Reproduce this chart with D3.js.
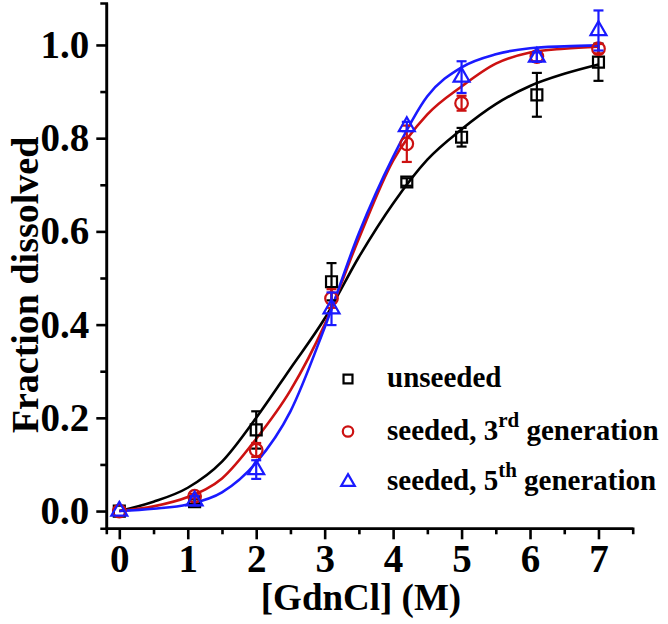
<!DOCTYPE html>
<html>
<head>
<meta charset="utf-8">
<script src="https://cdn.jsdelivr.net/npm/d3@7"></script>
</head>
<body style="margin:0">
<script>
// measured points
var conc = [0, 1.1, 2, 3.1, 4.2, 5, 6.1, 7];
var unseeded = [0, 0.02, 0.174, 0.492, 0.706, 0.802, 0.893, 0.963];
var unseededErr = [0, 0.005, 0.04, 0.04, 0.008, 0.02, 0.047, 0.04];
var seeded3 = [0, 0.032, 0.131, 0.456, 0.788, 0.875, 0.975, 0.992];
var seeded3Err = [0, 0.005, 0.015, 0.02, 0.039, 0.016, 0.01, 0.01];
var seeded5 = [0, 0.022, 0.089, 0.434, 0.825, 0.931, 0.974, 1.031];
var seeded5Err = [0, 0.01, 0.02, 0.035, 0.01, 0.034, 0.01, 0.043];

// fitted curves
var fitX = [0, 0.5, 1, 1.5, 2, 2.5, 3, 3.5, 4, 4.5, 5, 5.5, 6, 6.5, 7];
var fitUnseeded = [0, 0.02, 0.05, 0.106, 0.2, 0.306, 0.413, 0.545, 0.66, 0.754, 0.819, 0.873, 0.912, 0.938, 0.958];
var fitSeeded3 = [0, 0.01, 0.03, 0.07, 0.155, 0.259, 0.40, 0.585, 0.752, 0.851, 0.911, 0.96, 0.984, 0.992, 0.996];
var fitSeeded5 = [0, 0.005, 0.014, 0.04, 0.104, 0.214, 0.394, 0.596, 0.76, 0.89, 0.952, 0.98, 0.993, 0.997, 0.999];

var xTicks = [0, 1, 2, 3, 4, 5, 6, 7];
var yTicks = [0, 0.2, 0.4, 0.6, 0.8, 1.0];

var width = 668, height = 624;
var serif = "'Times New Roman'";

var svg = d3.select("body").append("svg")
    .attr("width", width)
    .attr("height", height);

var x = d3.scaleLinear().domain([-0.19, 7.5]).range([106.3, 632.7]);
var y = d3.scaleLinear().domain([-0.037, 1.09]).range([528.3, 3]);

function label(sel, size) {
  return sel.style("font-family", serif)
    .style("font-weight", "bold")
    .style("font-size", size + "px")
    .attr("fill", "#000");
}

function styleAxis(g) {
  g.select(".domain").attr("stroke", "#000").attr("stroke-width", 2.6);
  g.selectAll(".tick line").attr("stroke", "#000").attr("stroke-width", 2.6);
  label(g.selectAll(".tick text"), 39);
}

// minor ticks first
svg.append("g")
  .attr("transform", "translate(0," + y.range()[0] + ")")
  .call(d3.axisBottom(x).tickValues(d3.range(0.5, 7.5, 1)).tickSize(6).tickFormat(""))
  .call(styleAxis);
svg.append("g")
  .attr("transform", "translate(" + x.range()[0] + ",0)")
  .call(d3.axisLeft(y).tickValues(d3.range(0.1, 1.1, 0.2)).tickSize(6).tickFormat(""))
  .call(styleAxis);

svg.append("g")
  .attr("transform", "translate(0," + y.range()[0] + ")")
  .call(d3.axisBottom(x).tickValues(xTicks).tickSize(11).tickPadding(5).tickFormat(d3.format("d")).tickSizeOuter(0))
  .call(styleAxis);

svg.append("g")
  .attr("transform", "translate(" + x.range()[0] + ",0)")
  .call(d3.axisLeft(y).tickValues(yTicks).tickSize(10).tickPadding(7).tickFormat(d3.format(".1f")).tickSizeOuter(0))
  .call(styleAxis);

label(svg.append("text"), 37)
  .attr("x", 361)
  .attr("y", 610)
  .attr("text-anchor", "middle")
  .text("[GdnCl] (M)");

label(svg.append("text"), 38)
  .attr("transform", "translate(25,285) rotate(-90)")
  .attr("text-anchor", "middle")
  .attr("dy", "0.35em")
  .text("Fraction dissolved");

var series = [
  {name: "unseeded", color: "#000000", shape: d3.symbolSquare, size: 120, vals: unseeded, err: unseededErr, fit: fitUnseeded},
  {name: "seeded3", color: "#cc1111", shape: d3.symbolCircle, size: 125, vals: seeded3, err: seeded3Err, fit: fitSeeded3},
  {name: "seeded5", color: "#1a1aff", shape: d3.symbolTriangle, size: 110, vals: seeded5, err: seeded5Err, fit: fitSeeded5}
];

var line = d3.line()
  .x(function(d) { return x(d[0]); })
  .y(function(d) { return y(d[1]); })
  .curve(d3.curveMonotoneX);

series.forEach(function(s) {
  svg.append("path")
    .datum(d3.zip(fitX, s.fit))
    .attr("d", line)
    .attr("fill", "none")
    .attr("stroke", s.color)
    .attr("stroke-width", 2.6);
});

series.forEach(function(s) {
  var g = svg.append("g");
  conc.forEach(function(c, i) {
    var v = s.vals[i], e = s.err[i];
    if (e > 0) {
      g.append("line")
        .attr("x1", x(c)).attr("x2", x(c))
        .attr("y1", y(v - e)).attr("y2", y(v + e))
        .attr("stroke", s.color).attr("stroke-width", 2.2);
      [v - e, v + e].forEach(function(b) {
        g.append("line")
          .attr("x1", x(c) - 5).attr("x2", x(c) + 5)
          .attr("y1", y(b)).attr("y2", y(b))
          .attr("stroke", s.color).attr("stroke-width", 2.2);
      });
    }
    g.append("path")
      .attr("d", d3.symbol().type(s.shape).size(s.size)())
      .attr("transform", "translate(" + x(c) + "," + y(v) + ")")
      .attr("fill", "none")
      .attr("stroke", s.color)
      .attr("stroke-width", 2.2);
  });
});

// legend
var legend = svg.append("g");
var legendY = [379, 431.5, 482];
var legendSymbolSize = [80, 85, 80];
series.forEach(function(s, i) {
  legend.append("path")
    .attr("d", d3.symbol().type(s.shape).size(legendSymbolSize[i])())
    .attr("transform", "translate(348," + legendY[i] + ")")
    .attr("fill", "none")
    .attr("stroke", s.color)
    .attr("stroke-width", 2.2);
});

label(legend.append("text"), 29)
  .attr("x", 387).attr("y", legendY[0] + 8)
  .text("unseeded");

var supers = [null, "rd", "th"];
var digits = [null, "seeded, 3", "seeded, 5"];
[1, 2].forEach(function(i) {
  var t = label(legend.append("text"), 29)
    .attr("x", 387).attr("y", legendY[i] + 8);
  t.append("tspan").text(digits[i]);
  t.append("tspan").attr("dy", -13).style("font-size", "21px").text(supers[i]);
  t.append("tspan").attr("dy", 13).text(" generation");
});
</script>
</body>
</html>
